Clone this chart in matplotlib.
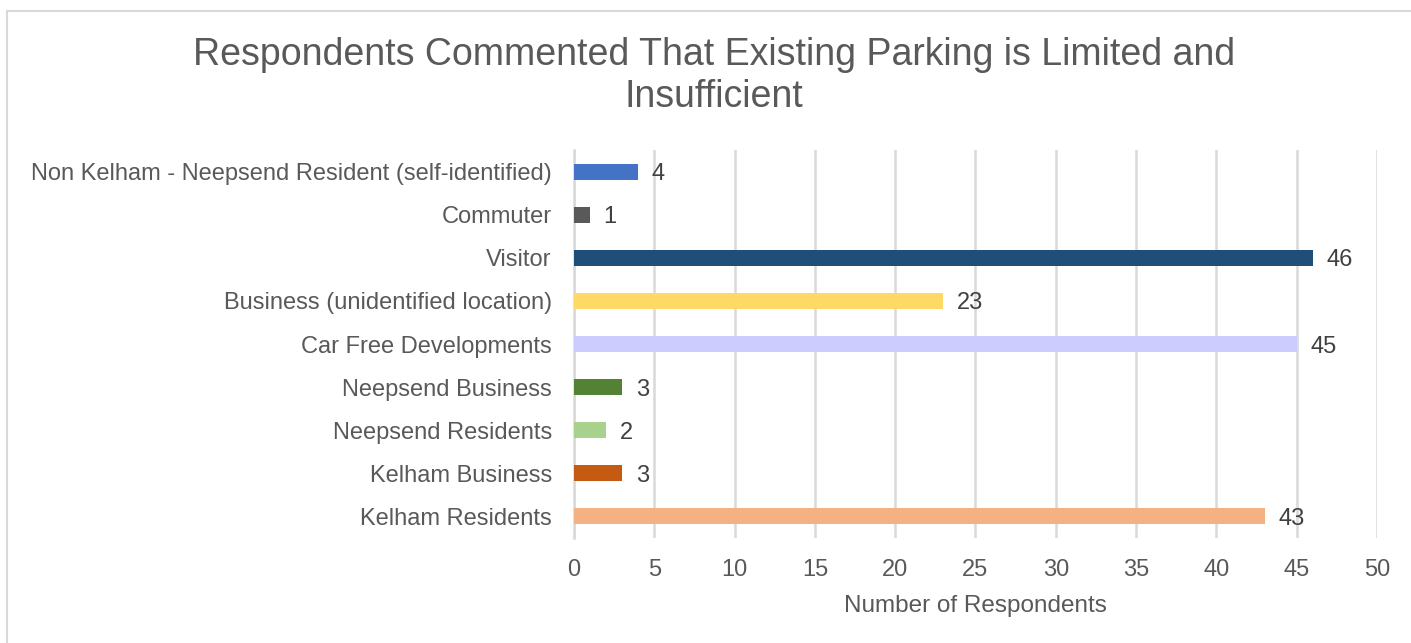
import matplotlib.pyplot as plt
from matplotlib.lines import Line2D

plt.rcParams['font.family'] = ['Liberation Sans', 'DejaVu Sans']

# categories, bottom to top
categories = ["Kelham Residents", "Kelham Business", "Neepsend Residents",
              "Neepsend Business", "Car Free Developments",
              "Business (unidentified location)", "Visitor", "Commuter",
              "Non Kelham - Neepsend Resident (self-identified)"]
counts = [43, 3, 2, 3, 45, 23, 46, 1, 4]
colors = ["#F4B183", "#C55A11", "#A9D18E", "#548235", "#CCCCFF",
          "#FFD966", "#1F4E79", "#595959", "#4472C4"]

txt = "#595959"
grid = "#D9D9D9"

fig = plt.figure(figsize=(14.11, 6.43), dpi=100)
ax = fig.add_axes([0.4068, 0.1633, 0.5691, 0.6034])

y = range(len(categories))
ax.barh(y, counts, height=0.37, color=colors, zorder=3)
for i, v in enumerate(counts):
    ax.text(v + 0.85, i, str(v), va='center_baseline', ha='left', fontsize=17,
            color="#404040")

ax.set_xlim(0, 50)
ax.set_ylim(-0.5, len(categories) - 0.5)
ax.set_xticks(range(0, 51, 5))
ax.set_yticks(list(y))
ax.set_yticklabels(categories)
ax.tick_params(axis='both', length=0, labelsize=17, colors=txt)
ax.tick_params(axis='y', pad=16)
ax.tick_params(axis='x', pad=15)
ax.grid(axis='x', color=grid, linewidth=1.8, zorder=0)
for s in ['top', 'right', 'bottom']:
    ax.spines[s].set_visible(False)
ax.spines['left'].set_color(grid)
ax.spines['left'].set_linewidth(1.8)

ax.set_xlabel("Number of Respondents", fontsize=17.5, color=txt, labelpad=10)

fig.text(0.506, 0.882, "Respondents Commented That Existing Parking is Limited and\nInsufficient",
         ha='center', va='center', fontsize=27, color=txt, linespacing=1.2)

# chart border (top and left visible)
fig.add_artist(Line2D([0.005, 0.005], [0.0, 0.983], color=grid, lw=1.5))
fig.add_artist(Line2D([0.005, 1.0], [0.983, 0.983], color=grid, lw=1.5))

fig.savefig("out.png", dpi=100)
